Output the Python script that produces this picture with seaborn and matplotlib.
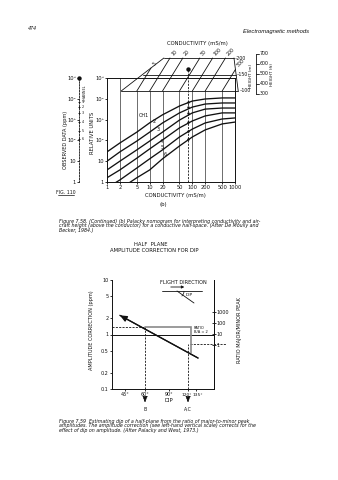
import numpy as np
import pandas as pd
import matplotlib
matplotlib.use("Agg")
import matplotlib.pyplot as plt
import matplotlib.transforms as mtransforms
from matplotlib.lines import Line2D
from matplotlib.patches import Arc, FancyArrowPatch
import seaborn as sns

# ---------------- data: Fig 7.58(b) Palacky nomogram ----------------
COND = [1, 2, 5, 10, 20, 50, 100, 200, 500, 1000]
CH1 = [28, 75, 250, 700, 1700, 4500, 7800, 9800, 11000, 11000]
CH2 = [10, 28, 93, 250, 690, 2100, 4000, 5600, 6300, 6300]
CH3 = [3.8, 10, 35, 93, 250, 950, 2100, 3200, 3600, 3600]
CH4 = [1.6, 3.8, 14, 39, 105, 400, 860, 1500, 2100, 2100]
CH5 = [0.52, 1.25, 4.7, 13, 35, 146, 350, 690, 1070, 1200]
CH6 = [0.21, 0.46, 1.6, 3.8, 13, 54, 146, 320, 620, 760]
CHANNELS = ["CH1", "2", "3", "4", "5", "6"]
LABEL_COND = [7.2, 13, 15.5, 18.3, 19.3, 22.7]
LABEL_VAL = [1660, 770, 350, 93, 48, 22]
COND_TICKS = [1, 2, 5, 10, 20, 50, 100, 200, 500, 1000]
COND_TICKLABELS = ["1", "2", "5", "10", "20", "50", "100", "200", "500", "1000"]
REL_TICKS = [1, 10, 100, 1000, 10000, 100000]
REL_TICKLABELS = ["1", "10", "10²", "10³", "10⁴", "10⁵"]
VLINE_COND = [2, 5, 10, 20, 50, 100, 200, 500]
GRID_COND = [5, 10, 20, 50, 100, 200, 500]
GRID_HEIGHT = [100, 150, 200]
HEIGHT_FT = [300, 400, 500, 600, 700]
EDGE_LEFT_COND = [2.15, 7.2]      # grid left edge at 100 m and 200 m
EDGE_RIGHT_COND = [1190, 316]     # grid right edge at 100 m and 200 m
READ_GRID_COND = 37
READ_GRID_HEIGHT = 167
READ_VALS = [7000, 4000, 2000, 760, 290, 117]

# ---------------- data: Fig 7.59 dip correction ----------------
DIP_TICKS = [45, 60, 90, 120, 135]
DIP_TICKLABELS = ["45°", "60°", "90°", "120°", "135°"]
AMP_TICKS = [0.1, 0.2, 0.5, 1, 2, 5, 10]
AMP_TICKLABELS = ["0.1", "0.2", "0.5", "1", "2", "5", "10"]
RATIO_TICKS = [1, 10, 100, 1000]
RATIO_TICKLABELS = ["1", "10", "100", "1000"]
LINE_DIP = [41, 139]
LINE_AMP = [2.25, 0.37]
DIP_B = 60
DIP_AC = 120
AMP_B = 1.35
AMP_AC = 0.68
BRACKET_DIP = 126
BRACKET_LOW = 0.45

# ---------------- style ----------------
sns.set_theme(style="ticks")
plt.rcParams["font.family"] = ["DejaVu Sans"]
INK = "#111111"
W, H = 338, 480
fig = plt.figure(figsize=(W / 100, H / 100), dpi=100)
fig.patch.set_facecolor("white")


def ftext(x, y, s, **kw):
    kw.setdefault("color", INK)
    fig.text(x / W, 1 - y / H, s, **kw)


def fline(xs, ys, **kw):
    kw.setdefault("color", INK)
    kw.setdefault("lw", 0.6)
    fig.add_artist(Line2D([x / W for x in xs], [1 - y / H for y in ys],
                          transform=fig.transFigure, **kw))


CAP = dict(family="DejaVu Sans", style="italic", fontsize=3.4)
TL = 3.7   # tick label size
LB = 3.8   # axis label size

# ---------------- page header ----------------
ftext(28, 29, "474", family="Liberation Sans", style="italic", fontsize=3.9, va="center")
ftext(309, 32, "Electromagnetic methods", family="Liberation Sans", style="italic",
      fontsize=4.2, ha="right", va="center")

# ---------------- top nomogram ----------------
ax = fig.add_axes([107 / W, 1 - 182 / H, 128 / W, 104 / H])
df = pd.DataFrame({
    "cond": COND * 6,
    "value": CH1 + CH2 + CH3 + CH4 + CH5 + CH6,
    "channel": np.repeat(CHANNELS, len(COND)),
})
sns.lineplot(data=df, x="cond", y="value", hue="channel", palette=[INK] * 6,
             legend=False, ax=ax, lw=0.95, estimator=None, sort=False)
ax.set_xscale("log")
ax.set_yscale("log")
ax.set_xlim(1, 1000)
ax.set_ylim(1, 1e5)
ax.set_xlabel("")
ax.set_ylabel("")
ax.set_xticks(COND_TICKS, COND_TICKLABELS)
ax.set_yticks(REL_TICKS, REL_TICKLABELS)
ax.xaxis.set_minor_locator(matplotlib.ticker.NullLocator())
ax.yaxis.set_minor_locator(matplotlib.ticker.NullLocator())
ax.tick_params(labelsize=TL, length=1.5, width=0.6, pad=1.0, colors=INK)
for s in ax.spines.values():
    s.set_linewidth(0.7)
    s.set_color(INK)
ax.set_facecolor("none")

for c, lab, v in zip(LABEL_COND, CHANNELS, LABEL_VAL):
    ax.text(c, v, lab, fontsize=3.5, ha="center", va="center", color=INK)

SHIFT_DEC = 20 / 42


def proj(c, h):
    t = (h - 100) / 100
    return c * 10 ** (SHIFT_DEC * t), 10 ** (5 + (33 * t - 13) / 20.8)


y_grid_base = proj(1, 100)[1]
for c in VLINE_COND:
    top = 1e5 if c == 2 else y_grid_base
    ax.plot([c, c], [1, top], color="#333333", lw=0.5, zorder=1)

aL, bL = np.log10(EDGE_LEFT_COND[0]), np.log10(EDGE_LEFT_COND[1]) - np.log10(EDGE_LEFT_COND[0])
aR, bR = np.log10(EDGE_RIGHT_COND[0]), np.log10(EDGE_RIGHT_COND[1]) - np.log10(EDGE_RIGHT_COND[0])
GK = dict(color=INK, lw=0.6, clip_on=False)
for c in GRID_COND:
    lc = np.log10(c)
    tmax = min(1.0, (lc - aL) / bL, (aR - lc) / -bR)
    p0 = proj(c, 100)
    p1 = proj(c, 100 + 100 * tmax)
    ax.plot([p0[0], p1[0]], [p0[1], p1[1]], **GK)
    ax.annotate(str(c), xy=p1, xytext=(0.3, 1.2), textcoords="offset points",
                rotation=45, fontsize=3.4, ha="left", va="bottom", color=INK,
                annotation_clip=False)
for h in GRID_HEIGHT:
    t = (h - 100) / 100
    pl = proj(10 ** (aL + bL * t), h)
    pr = proj(10 ** (aR + bR * t), h)
    ax.plot([pl[0], pr[0]], [pl[1], pr[1]], **GK)
    ax.annotate("–" + str(h), xy=pr, xytext=(0.8, 0), textcoords="offset points",
                fontsize=3.4, ha="left", va="center", color=INK, annotation_clip=False)
for edge in (EDGE_LEFT_COND, EDGE_RIGHT_COND):
    p0 = proj(edge[0], 100)
    p1 = proj(edge[1], 200)
    ax.plot([p0[0], p1[0]], [p0[1], p1[1]], **GK)

# height in feet bracket
bt = mtransforms.blended_transform_factory(ax.transAxes, ax.transData)
ft_y = [proj(1, f * 0.3048)[1] for f in HEIGHT_FT]
ax.plot([1.163, 1.163], [ft_y[0], ft_y[-1]], transform=bt, **GK)
for f, y in zip(HEIGHT_FT, ft_y):
    ax.plot([1.163, 1.185], [y, y], transform=bt, **GK)
    ax.text(1.19, y, str(f), transform=bt, fontsize=3.4, va="center", ha="left", color=INK)

# reading line with channel intersections
xr, yr = proj(READ_GRID_COND, READ_GRID_HEIGHT)
ax.plot([xr, xr], [1, yr], color=INK, lw=0.6, ls=(0, (2.5, 1.5)), clip_on=False)
ax.scatter([xr] * len(READ_VALS), READ_VALS, s=3, color=INK, zorder=5, lw=0)
ax.scatter([xr], [yr], s=10, color=INK, zorder=5, lw=0, clip_on=False)

# observed-data scale
axo = fig.add_axes([79 / W, 1 - 182 / H, 0.0005, 104 / H])
axo.set_yscale("log")
axo.set_ylim(1, 1e5)
axo.set_xlim(0, 1)
axo.set_yticks(REL_TICKS, REL_TICKLABELS)
axo.set_xticks([])
axo.yaxis.set_minor_locator(matplotlib.ticker.NullLocator())
axo.tick_params(labelsize=TL, length=1.2, width=0.6, pad=1.0, colors=INK)
for k, s in axo.spines.items():
    s.set_visible(k == "left")
axo.spines["left"].set_linestyle((0, (2, 1.5)))
axo.spines["left"].set_linewidth(0.6)
axo.spines["left"].set_color(INK)
axo.set_facecolor("none")
axo.scatter([0] * len(READ_VALS), READ_VALS, s=3, marker="+", color=INK, lw=0.6, clip_on=False)
for i, v in enumerate(READ_VALS):
    axo.annotate(str(i + 1), xy=(0, v), xytext=(2.2, 0), textcoords="offset points",
                 fontsize=2.4, va="center", color=INK, annotation_clip=False)
axo.scatter([0], [1e5], s=10, color=INK, lw=0, clip_on=False)

ftext(84.5, 93, "CHANNEL", rotation=90, fontsize=2.4, ha="center", va="center")
ftext(65, 140, "OBSERVED DATA (ppm)", rotation=90, fontsize=3.6, ha="center", va="center")
ftext(92.5, 133, "RELATIVE UNITS", rotation=90, fontsize=3.8, ha="center", va="center")
ftext(66, 192, "FIG. 110", fontsize=3.3, ha="center", va="center")
fline([58, 74], [195, 195], lw=0.5)
ftext(197, 44, "CONDUCTIVITY (mS/m)", fontsize=LB, ha="center", va="center")
ftext(175, 195.5, "CONDUCTIVITY (mS/m)", fontsize=LB, ha="center", va="center")
ftext(163, 205, "(b)", fontsize=3.9, ha="center", va="center")
ftext(251.5, 76, "HEIGHT (m)", rotation=90, fontsize=3.0, ha="center", va="center")
ftext(272, 74, "HEIGHT (ft)", rotation=90, fontsize=3.0, ha="center", va="center")

cap1 = ["Figure 7.58. (Continued) (b) Palacky nomogram for interpreting conductivity and air-",
        "craft height (above the conductor) for a conductive half-space. (After De Moully and",
        "Becker, 1984.)"]
for i, line in enumerate(cap1):
    ftext(59, 221 + 4.8 * i, line, va="center", **CAP)

# ---------------- bottom chart ----------------
ftext(151, 244, "HALF  PLANE", fontsize=LB, ha="center", va="center")
ftext(154, 251, "AMPLITUDE CORRECTION FOR DIP", fontsize=LB, ha="center", va="center")

DIP_NODES = [35, 45, 60, 90, 120, 135, 170, 200]
POS_NODES = [0, 13, 33, 57, 76, 84, 102, 120]


def fwd(d):
    return np.interp(d, DIP_NODES, POS_NODES)


def inv(p):
    return np.interp(p, POS_NODES, DIP_NODES)


ax2 = fig.add_axes([112 / W, 1 - 389 / H, 102 / W, 109 / H])
ldf = pd.DataFrame({"dip": LINE_DIP, "amp": LINE_AMP})
sns.lineplot(data=ldf, x="dip", y="amp", ax=ax2, color=INK, lw=0.9, sort=False)
ax2.set_xscale("function", functions=(fwd, inv))
ax2.set_yscale("log")
ax2.set_xlim(35, 170)
ax2.set_ylim(0.1, 10)
ax2.set_xlabel("")
ax2.set_ylabel("")
ax2.set_xticks(DIP_TICKS, [lab if d < 100 else "" for d, lab in zip(DIP_TICKS, DIP_TICKLABELS)])
ax2.set_yticks(AMP_TICKS, AMP_TICKLABELS)
ax2.xaxis.set_minor_locator(matplotlib.ticker.NullLocator())
ax2.yaxis.set_minor_locator(matplotlib.ticker.NullLocator())
ax2.tick_params(labelsize=3.5, length=1.5, width=0.6, pad=1.0, colors=INK)
ax2.spines["top"].set_visible(False)
for s in ax2.spines.values():
    s.set_linewidth(0.7)
    s.set_color(INK)
ax2.set_facecolor("none")
bx = mtransforms.blended_transform_factory(ax2.transData, ax2.transAxes)
for d, lab, dx in zip(DIP_TICKS, DIP_TICKLABELS, [0, 0, 0, -1.2, 1.6]):
    if d > 100:
        ax2.annotate(lab, xy=(d, 0), xycoords=bx, xytext=(dx, -2.6), textcoords="offset points",
                     fontsize=3.2, ha="center", va="top", color=INK, annotation_clip=False)

ax2.annotate("", xy=(LINE_DIP[0], LINE_AMP[0]), xytext=(LINE_DIP[1], LINE_AMP[1]),
             arrowprops=dict(arrowstyle="-|>,head_length=0.35,head_width=0.15",
                             color=INK, lw=0.9, shrinkA=0, shrinkB=0))
ax2.axhline(1, color=INK, lw=0.7)
DK = dict(color=INK, lw=0.6, ls=(0, (2.5, 1.5)))
ax2.plot([35, DIP_B], [AMP_B, AMP_B], **DK)
ax2.plot([DIP_B, DIP_B], [0.1, AMP_B], **DK)
ax2.plot([DIP_AC, DIP_AC], [0.1, AMP_AC], **DK)
ax2.plot([DIP_AC + 3, 190], [AMP_AC, AMP_AC], clip_on=False, **DK)
ax2.plot([DIP_B, BRACKET_DIP, BRACKET_DIP], [AMP_B, AMP_B, BRACKET_LOW],
         color="#8a8a8a", lw=1.2, solid_joinstyle="miter")
ax2.text(131, 1.2, "RATIO\nB/A = 2", fontsize=2.6, ha="left", va="center",
         color=INK, linespacing=1.1)

ax2r = ax2.twinx()
ax2r.set_yscale("log")
ax2r.set_ylim(1e-4, 10 ** 5.9)
ax2r.set_yticks(RATIO_TICKS, RATIO_TICKLABELS)
ax2r.yaxis.set_minor_locator(matplotlib.ticker.NullLocator())
ax2r.tick_params(labelsize=3.5, length=2.2, width=0.6, pad=0.5, direction="inout", colors=INK)
for k, s in ax2r.spines.items():
    s.set_visible(k == "right")
ax2r.spines["right"].set_linewidth(0.7)
ax2r.spines["right"].set_color(INK)

for d, lab in ((DIP_B, "B"), (DIP_AC, "A,C")):
    ax2.annotate("", xy=(d, -0.15), xytext=(d, -0.065), xycoords=bx, textcoords=bx,
                 arrowprops=dict(arrowstyle="-|>,head_length=0.3,head_width=0.12",
                                 color=INK, lw=0.6, ls=(0, (1.5, 1))), annotation_clip=False)
    ax2.text(d, -0.185, lab, transform=bx, fontsize=3.3, ha="center", va="center", color=INK)

ftext(169, 400, "DIP", fontsize=LB, ha="center", va="center")
ftext(92, 330, "AMPLITUDE CORRECTION (ppm)", rotation=90, fontsize=3.6, ha="center", va="center")
ftext(240, 330, "RATIO MAJOR/MINOR PEAK", rotation=90, fontsize=3.6, ha="center", va="center")

# flight direction inset
ftext(183, 282, "FLIGHT DIRECTION", fontsize=3.6, ha="center", va="center")
fig.add_artist(FancyArrowPatch(
    (168 / W, 1 - 287 / H), (187 / W, 1 - 287 / H), transform=fig.transFigure,
    arrowstyle="-|>,head_length=1.5,head_width=0.8", color=INK, lw=0.6))
fline([162, 202], [291, 291])
fline([177, 194], [291, 303])
ftext(189, 294.5, "DIP", fontsize=3.2, ha="center", va="center")
fig.add_artist(Arc((177 / W, 1 - 291 / H), 14 / W, 14 / H, theta1=-38, theta2=0,
                   transform=fig.transFigure, color=INK, lw=0.5))

cap2 = ["Figure 7.59  Estimating dip of a half-plane from the ratio of major-to-minor peak",
        "amplitudes. The amplitude correction (see left-hand vertical scale) corrects for the",
        "effect of dip on amplitude. (After Palacky and West, 1973.)"]
for i, line in enumerate(cap2):
    ftext(59, 421 + 4.8 * i, line, va="center", **CAP)

fig.savefig("out.png", dpi=100, facecolor="white")
